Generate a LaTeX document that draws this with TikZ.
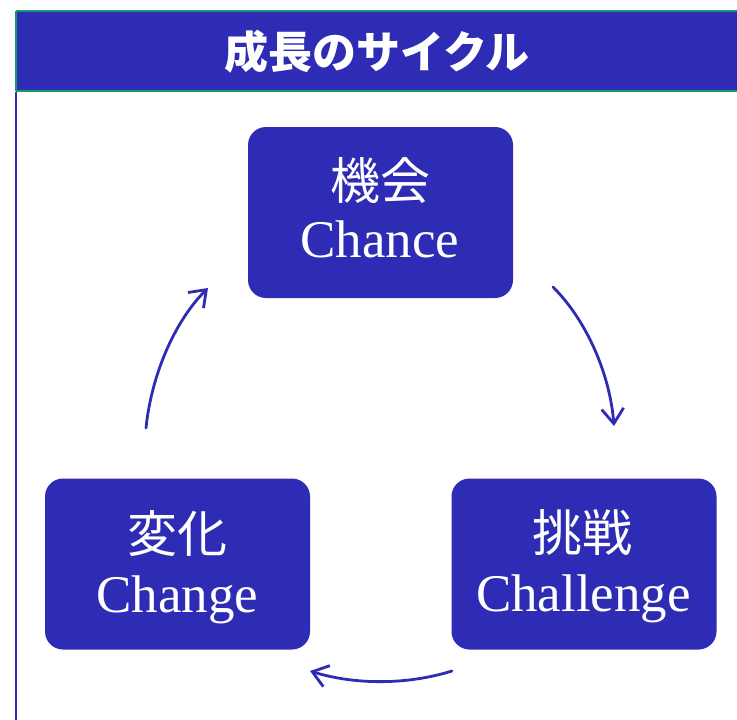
\documentclass[tikz,border=0pt]{standalone}
\usepackage{fontspec}
\setmainfont{Liberation Serif}
\newfontfamily\cjk{Noto Sans CJK JP}
\usetikzlibrary{arrows.meta}
\definecolor{mainblue}{RGB}{46,43,180}
\definecolor{bordergreen}{RGB}{24,150,110}
\tikzset{
  cyclebox/.style={fill=mainblue, draw=none, rounded corners=18pt, minimum width=265pt, minimum height=171pt, inner sep=0pt},
  cjklabel/.style={text=white, font=\cjk\fontsize{50}{55}\selectfont, inner sep=0pt},
  latlabel/.style={text=white, font=\fontsize{53}{58}\selectfont, inner sep=0pt, anchor=base},
  cyclearrow/.style={draw=mainblue, line width=2.8pt, line cap=round, line join=round, -{Straight Barb[length=15pt,width=22pt,line width=2.8pt]}},
}
\begin{document}
\begin{tikzpicture}[x=1pt,y=-1pt]
\useasboundingbox (0,0) rectangle (737,720);
% header band
\fill[mainblue] (16,11) rectangle (745,91);
\draw[bordergreen, line width=2.8pt] (16,11) -- (745,11) (16,91) -- (745,91) (16,11) -- (16,91);
\node[text=white, font=\cjk\bfseries\fontsize{44}{48}\selectfont, inner sep=0pt] (title) at (377,52) {成長のサイクル};
% left frame line
\coordinate (frameTop) at (16,92.4);
\coordinate (frameBot) at (16,722);
\draw[mainblue, line width=2.4pt] (frameTop) -- (frameBot);
% boxes
\node[cyclebox] (chance) at (380.5,212.5) {};
\node[cyclebox] (change) at (177.5,564) {};
\node[cyclebox] (challenge) at (584,564) {};
% texts
\node[cjklabel] (chanceJ) at (380,181) {機会};
\node[latlabel] (chanceE) at (380,257) {Chance};
\node[cjklabel] (changeJ) at (177.5,534) {変化};
\node[latlabel] (changeE) at (177.5,612) {Change};
\node[cjklabel] (challengeJ) at (582.5,533) {挑戦};
\node[latlabel] (challengeE) at (583.5,611) {Challenge};
% arrows
\coordinate (a1s) at (553,287);
\coordinate (a1e) at (614,426);
\coordinate (a2s) at (452,671);
\coordinate (a2e) at (310,671);
\coordinate (a3s) at (146,428);
\coordinate (a3e) at (208,288);
\draw[cyclearrow] (a1s) .. controls (588,322) and (610,376) .. (a1e);
\draw[cyclearrow] (a2s) .. controls (407,685) and (355,685) .. (a2e);
\draw[cyclearrow] (a3s) .. controls (151,378) and (173,323) .. (a3e);
\end{tikzpicture}
\end{document}
